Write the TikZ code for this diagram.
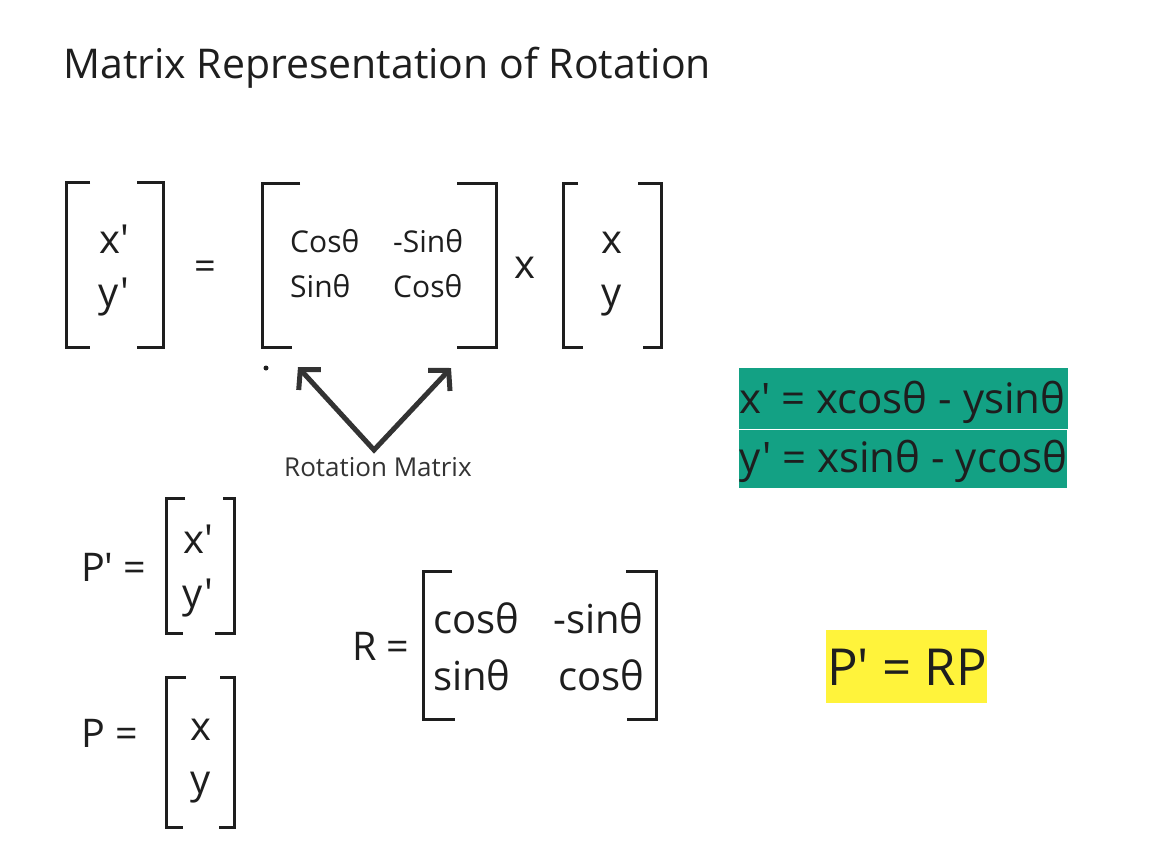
\documentclass[tikz,border=0pt]{standalone}
\usepackage{fontspec}
\setmainfont{Open Sans}[Ligatures=TeXOff]
\usetikzlibrary{arrows.meta}

\definecolor{ink}{HTML}{1E1E1E}
\definecolor{arrowgray}{HTML}{333333}
\definecolor{hlgreen}{HTML}{13A184}
\definecolor{hlyellow}{HTML}{FFF33B}

\tikzset{
  txt/.style={inner sep=0pt, anchor=base west, text=ink},
  heading/.style={txt, font=\fontsize{41}{49}\selectfont},
  entry/.style={inner sep=0pt, anchor=base, text=ink, font=\fontsize{40}{48}\selectfont},
  small entry/.style={txt, font=\fontsize{30}{36}\selectfont},
  mid entry/.style={txt, font=\fontsize{40}{48}\selectfont},
  lhs/.style={txt, font=\fontsize{39.5}{47}\selectfont},
  brk/.style={draw=ink, line width=3pt, line join=miter},
  pointer/.style={draw=arrowgray, line width=5pt, line join=miter,
    {Straight Barb[length=14pt, width=30pt]}-{Straight Barb[length=14pt, width=30pt]}}
}

\begin{document}
\begin{tikzpicture}[x=1pt, y=-1pt]

\fill[white] (0,0) rectangle (1174,851);
\useasboundingbox (0,0) rectangle (1174,851);

\node[heading] (title) at (63,78) {Matrix Representation of Rotation};

% top equation
\draw[brk] (90,182) -| (66,347) -- (90,347);
\draw[brk] (137,182) -| (163,347) -- (137,347);
\node[entry] (xp) at (114,253) {x'};
\node[entry] (yp) at (114,306) {y'};
\node[inner sep=0pt, anchor=base, text=ink, font=\fontsize{38}{46}\selectfont] (eq) at (205,279) {=};

\draw[brk] (300,183) -| (262,347) -- (292,347);
\draw[brk] (457,183) -| (496,347) -- (457,347);
\node[small entry] (c11) at (290,252) {Cosθ};
\node[small entry] (c12) at (393,252) {-Sinθ};
\node[small entry] (c21) at (290,297) {Sinθ};
\node[small entry] (c22) at (393,297) {Cosθ};

\node[txt, font=\fontsize{40}{48}\selectfont] (times) at (514,278) {x};

\draw[brk] (578,183) -| (563,347) -- (583,347);
\draw[brk] (638,183) -| (661,347) -- (643,347);
\node[entry] (vx) at (612,253) {x};
\node[entry] (vy) at (612,306) {y};

% pointer to the rotation matrix
\fill[ink] (266,368) circle (2.5pt);
\coordinate (tipl) at (298,367);
\coordinate (tipr) at (451,368);
\coordinate (vtx) at (374,450);
\path[pointer] (tipl) -- (vtx) -- (tipr);
\node[txt, text=arrowgray, font=\fontsize{26}{31}\selectfont] (rotlbl) at (284,476) {Rotation Matrix};

% component equations
\fill[hlgreen] (739,368) rectangle (1068,428.5);
\fill[hlgreen] (739,429.5) rectangle (1067,488);
\node[txt, font=\fontsize{42}{50}\selectfont] (eqa) at (739,413) {x' = xcosθ - ysinθ};
\node[txt, font=\fontsize{42}{50}\selectfont] (eqb) at (739,472) {y' = xsinθ - ycosθ};

% P' and P
\node[lhs] (pp) at (81,581) {P' =};
\draw[brk] (185,498) -| (166,633) -- (183,633);
\draw[brk] (223,498) -| (234,633) -- (215,633);
\node[entry] (ppx) at (198,553) {x'};
\node[entry] (ppy) at (198,607) {y'};

\node[lhs] (p) at (81,747) {P =};
\draw[brk] (186,677) -| (166,827) -- (183,827);
\draw[brk] (220,677) -| (234,827) -- (219,827);
\node[entry] (px) at (201,740) {x};
\node[entry] (py) at (201,793) {y};

% R
\node[lhs] (r) at (352,660) {R =};
\draw[brk] (452,571) -| (423,719) -- (455,719);
\draw[brk] (626,571) -| (656,719) -- (627,719);
\node[mid entry] (r11) at (433,633) {cosθ};
\node[mid entry] (r12) at (553,633) {-sinθ};
\node[mid entry] (r21) at (433,690) {sinθ};
\node[mid entry] (r22) at (558,690) {cosθ};

% result
\fill[hlyellow] (826,630) rectangle (987,703);
\node[txt, font=\fontsize{51}{61}\selectfont] (res) at (827,685) {P' = RP};

\end{tikzpicture}
\end{document}
